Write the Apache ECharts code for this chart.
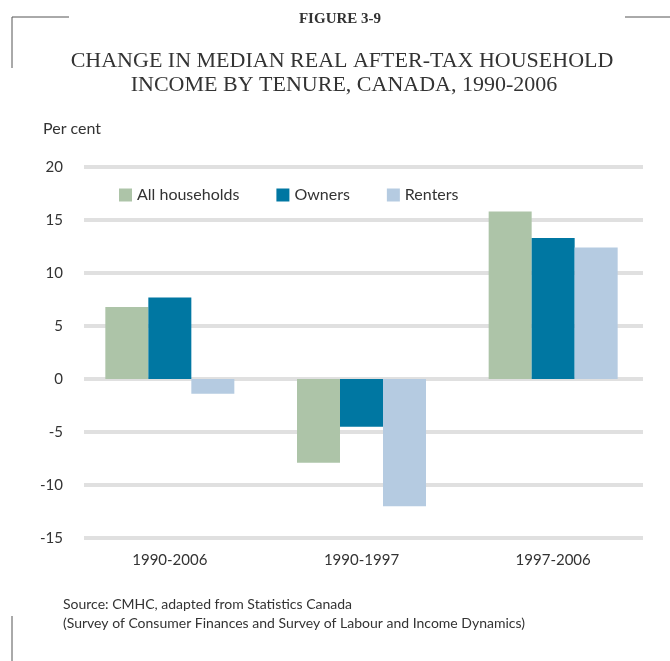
<!DOCTYPE html>
<html>
<head>
<meta charset="utf-8">
<title>Figure 3-9</title>
<script src="https://cdn.jsdelivr.net/npm/echarts@6/dist/echarts.min.js"></script>
</head>
<body style="margin:0;background:#fff;">
<div id="main" style="width:670px;height:661px;"></div>
<script type="text/javascript">
// data (per cent)
var periods = ['1990-2006', '1990-1997', '1997-2006'];
var allHouseholds = [6.8, -7.9, 15.8];
var owners = [7.7, -4.5, 13.3];
var renters = [-1.4, -12.0, 12.4];
var yTicks = { min: -15, max: 20, step: 5 };

var sans = 'Lato, "Open Sans", sans-serif';
var serif = '"Liberation Serif", "DejaVu Serif", serif';
var ink = '#333';

var chart = echarts.init(document.getElementById('main'));

function cornerLine(x1, y1, x2, y2) {
    return {
        type: 'line',
        shape: { x1: x1, y1: y1, x2: x2, y2: y2 },
        style: { stroke: '#555', lineWidth: 1 }
    };
}

// one centred line of heading text
function heading(text, cx, cy, font) {
    return {
        type: 'text', x: cx, y: cy,
        style: { text: text, font: font, fill: ink, align: 'center', verticalAlign: 'middle' }
    };
}

function barSeries(name, values, color) {
    return {
        name: name,
        type: 'bar',
        xAxisIndex: 1,
        yAxisIndex: 1,
        data: values,
        barWidth: 43,
        barGap: '0%',
        itemStyle: { color: color }
    };
}

chart.setOption({
    animation: false,
    legend: {
        left: 114, top: 182,
        icon: 'rect',
        itemWidth: 13, itemHeight: 13,
        itemGap: 37,
        textStyle: { fontFamily: sans, fontSize: 16, color: ink },
        data: ['All households', 'Owners', 'Renters']
    },
    graphic: [
        cornerLine(12, 17, 69, 17),
        cornerLine(12, 17, 12, 68),
        cornerLine(625, 17, 670, 17),
        cornerLine(12, 616, 12, 661),
        heading('FIGURE 3-9', 340, 19, 'bold 15px ' + serif),
        heading('CHANGE IN MEDIAN REAL AFTER-TAX HOUSEHOLD', 342, 61, '22px ' + serif),
        heading('INCOME BY TENURE, CANADA, 1990-2006', 344, 85, '22px ' + serif),
        {
            type: 'text', left: 43, top: 121,
            style: { text: 'Per cent', font: '16px ' + sans, fill: ink }
        },
        {
            type: 'text', left: 63, top: 595,
            style: {
                text: 'Source: CMHC, adapted from Statistics Canada\n(Survey of Consumer Finances and Survey of Labour and Income Dynamics)',
                font: '14px ' + sans, fill: ink, lineHeight: 19
            }
        }
    ],
    grid: [
        { left: 84, right: 27, top: 167, bottom: 123 },
        { left: 74, right: 21, top: 167, bottom: 123 }
    ],
    xAxis: [
        { type: 'category', gridIndex: 0, data: periods, show: false },
        {
            type: 'category', gridIndex: 1, data: periods,
            axisLine: { show: false }, axisTick: { show: false },
            axisLabel: { fontFamily: sans, fontSize: 15, color: ink, margin: 15 }
        }
    ],
    yAxis: [
        {
            type: 'value', gridIndex: 0,
            min: yTicks.min, max: yTicks.max, interval: yTicks.step,
            axisLine: { show: false }, axisTick: { show: false },
            axisLabel: { fontFamily: sans, fontSize: 15, color: ink, margin: 21 },
            splitLine: { lineStyle: { color: '#e0e0e0', width: 4 } }
        },
        {
            type: 'value', gridIndex: 1,
            min: yTicks.min, max: yTicks.max, interval: yTicks.step,
            show: false, splitLine: { show: false }
        }
    ],
    series: [
        barSeries('All households', allHouseholds, '#adc4a8'),
        barSeries('Owners', owners, '#0077a2'),
        barSeries('Renters', renters, '#b5cbe1')
    ]
});
</script>
</body>
</html>
